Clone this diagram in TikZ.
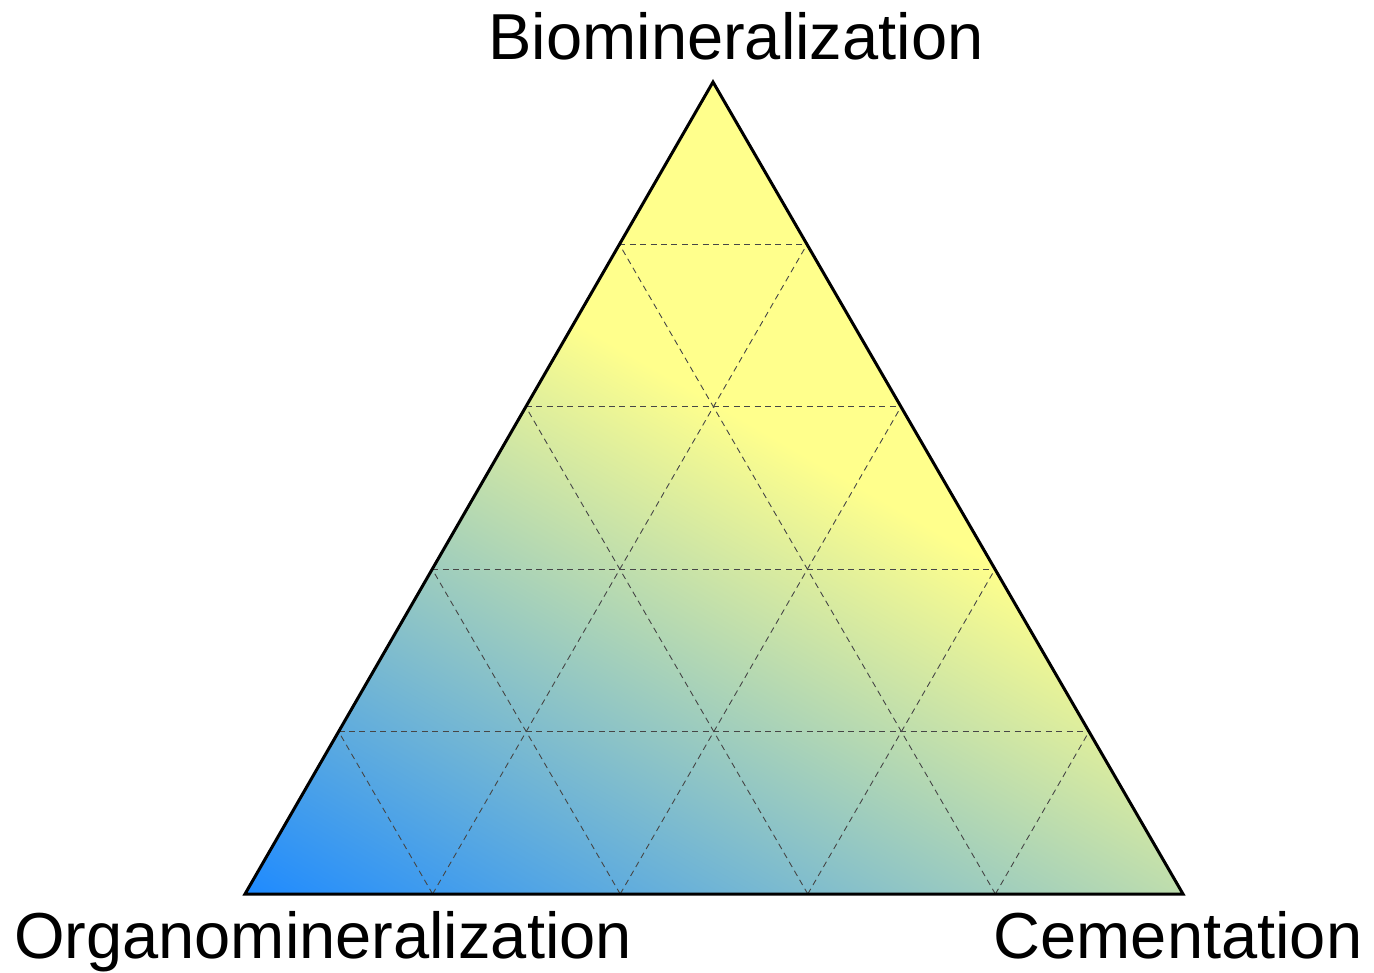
\documentclass[tikz,border=0pt]{standalone}
\usepackage{fontspec}
\setmainfont{Liberation Sans}
\usetikzlibrary{calc}
\definecolor{organo}{RGB}{30,138,255}
\definecolor{midcol}{RGB}{135,192,205}
\definecolor{biocol}{RGB}{255,255,140}
\definecolor{gridcol}{RGB}{70,70,70}
\begin{document}
\begin{tikzpicture}[x=0.5pt,y=-0.5pt,
  outline/.style={draw=black,line width=1.5pt,line join=miter},
  gridline/.style={draw=gridcol,line width=0.45pt,dash pattern=on 3pt off 2.2pt},
  corner/.style={font=\fontsize{32.5}{39}\selectfont,anchor=base,inner sep=0pt}]
\useasboundingbox (0,0) rectangle (1374,973);
% vertices of the ternary triangle
\coordinate (L) at (245,894);
\coordinate (T) at (713,82);
\coordinate (R) at (1183,894);
% background fill and colour ramp along the left edge
\fill[biocol] (L) -- (T) -- (R) -- cycle;
\begin{scope}
  \clip (L) -- (T) -- (R) -- cycle;
  \begin{scope}[transform canvas={rotate around={60:(L)}}]
    \shade[left color=organo,middle color=midcol,right color=biocol]
      ($(L)+(0,-1200)$) rectangle ($(L)+(660,1200)$);
  \end{scope}
\end{scope}
% dashed 20% grid
\foreach \k in {1,...,4}{
  \draw[gridline] ($(L)!\k/5!(T)$) -- ($(R)!\k/5!(T)$);
  \draw[gridline] ($(L)!\k/5!(R)$) -- ($(T)!\k/5!(R)$);
  \draw[gridline] ($(L)!\k/5!(R)$) -- ($(L)!\k/5!(T)$);
}
\draw[outline] (L) -- (T) -- (R) -- cycle;
% corner labels
\node[corner] (nbio) at (736,60) {Biomineralization};
\node[corner] (norg) at (323,958) {Organomineralization};
\node[corner] (ncem) at (1178,958) {Cementation};
\end{tikzpicture}
\end{document}
